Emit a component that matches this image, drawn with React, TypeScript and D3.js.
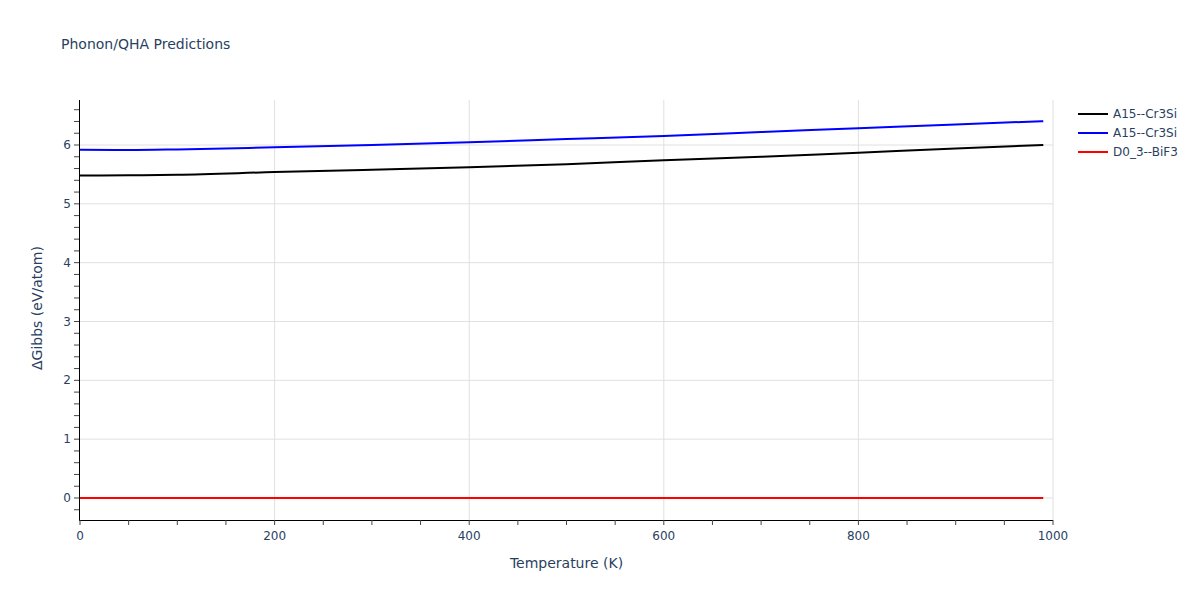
import React from "react";
import * as d3 from "d3";

const temps = [0, 50, 100, 200, 300, 400, 500, 600, 700, 800, 900, 990];
const blackSeries = [5.48, 5.485, 5.495, 5.54, 5.58, 5.62, 5.675, 5.74, 5.80, 5.87, 5.94, 6.0];
const blueSeries = [5.92, 5.915, 5.925, 5.96, 6.0, 6.045, 6.1, 6.155, 6.22, 6.285, 6.35, 6.405];
const redSeries = [0, 0, 0, 0, 0, 0, 0, 0, 0, 0, 0, 0];
const seriesNames = ["A15--Cr3Si", "A15--Cr3Si", "D0_3--BiF3"];
const seriesColors = ["#000000", "#0000ff", "#ff0000"];
const xTicks = [0, 200, 400, 600, 800, 1000];
const yTicks = [0, 1, 2, 3, 4, 5, 6];

const W = 1200, H = 600;
const L = 80, R = 1053, T = 100, B = 520;
const FONT = "'DejaVu Sans', Verdana, sans-serif";
const TXT = "#2a3f5f";

export default function App() {
  const x = d3.scaleLinear().domain([0, 1000]).range([L, R]);
  const y = d3.scaleLinear().domain([-0.374, 6.765]).range([B, T]);
  const line = d3.line<number>().x((_, i) => x(temps[i])).y((v) => y(v)).curve(d3.curveMonotoneX);
  const all = [blackSeries, blueSeries, redSeries];
  const xMinor = d3.range(0, 1001, 50);
  const yMinor = d3.range(-0.2, 6.75, 0.2);
  return (
    <svg width={W} height={H} style={{ position: "absolute", left: 0, top: 0, background: "#fff" }}>
      <rect width={W} height={H} fill="#fff" />
      <text x={61} y={49} fontFamily={FONT} fontSize={14} fill={TXT}>Phonon/QHA Predictions</text>
      {xTicks.slice(1).map((t) => (
        <line key={"gx" + t} x1={x(t)} x2={x(t)} y1={T} y2={B} stroke="#e0e0e0" strokeWidth={1} />
      ))}
      {yTicks.map((t) => (
        <line key={"gy" + t} x1={L} x2={R} y1={y(t)} y2={y(t)} stroke="#e0e0e0" strokeWidth={1} />
      ))}
      {all.map((s, i) => (
        <path key={"s" + i} d={line(s) || ""} fill="none" stroke={seriesColors[i]} strokeWidth={2} />
      ))}
      <line x1={L - 0.5} x2={L - 0.5} y1={T} y2={B} stroke="#000" strokeWidth={1} />
      <line x1={L - 1} x2={R} y1={B + 0.5} y2={B + 0.5} stroke="#000" strokeWidth={1} />
      {xMinor.map((t) => (
        <line key={"tx" + t} x1={x(t)} x2={x(t)} y1={B} y2={B + 5} stroke="#444" strokeWidth={1} />
      ))}
      {yMinor.map((t) => (
        <line key={"ty" + t.toFixed(1)} x1={L - 6} x2={L - 1} y1={y(t)} y2={y(t)} stroke="#444" strokeWidth={1} />
      ))}
      {xTicks.map((t) => (
        <text key={"lx" + t} x={x(t)} y={540} textAnchor="middle" fontFamily={FONT} fontSize={12} fill={TXT}>{t}</text>
      ))}
      {yTicks.map((t) => (
        <text key={"ly" + t} x={L - 9} y={y(t) + 4} textAnchor="end" fontFamily={FONT} fontSize={12} fill={TXT}>{t}</text>
      ))}
      <text x={(L + R) / 2} y={568} textAnchor="middle" fontFamily={FONT} fontSize={14} fill={TXT}>Temperature (K)</text>
      <text transform={`translate(42,${(T + B) / 2 - 2}) rotate(-90)`} textAnchor="middle" fontFamily={FONT} fontSize={14} fill={TXT}>ΔGibbs (eV/atom)</text>
      {seriesNames.map((n, i) => (
        <g key={"lg" + i} transform={`translate(1078,${114 + i * 19})`}>
          <line x1={0} x2={30} y1={0} y2={0} stroke={seriesColors[i]} strokeWidth={2} />
          <text x={35} y={4} fontFamily={FONT} fontSize={12} fill={TXT}>{n}</text>
        </g>
      ))}
    </svg>
  );
}
